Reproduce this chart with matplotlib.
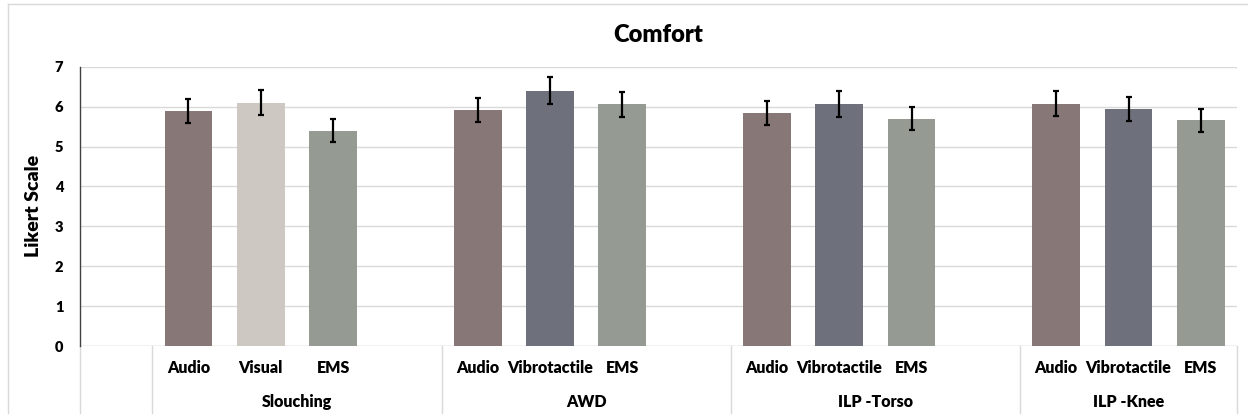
import matplotlib
matplotlib.use("Agg")
import matplotlib.pyplot as plt
from matplotlib.lines import Line2D

plt.rcParams['font.family'] = ['Lato', 'DejaVu Sans']

# Data: mean comfort ratings (Likert) and error-bar half-widths
groups = ["Slouching", "AWD", "ILP -Torso", "ILP -Knee"]
conditions = [
    ["Audio", "Visual", "EMS"],
    ["Audio", "Vibrotactile", "EMS"],
    ["Audio", "Vibrotactile", "EMS"],
    ["Audio", "Vibrotactile", "EMS"],
]
means = [
    [5.89, 6.10, 5.40],
    [5.91, 6.40, 6.06],
    [5.85, 6.07, 5.70],
    [6.07, 5.95, 5.66],
]
errors = [
    [0.30, 0.31, 0.28],
    [0.30, 0.33, 0.31],
    [0.30, 0.32, 0.29],
    [0.31, 0.30, 0.29],
]
yticks = [0, 1, 2, 3, 4, 5, 6, 7]

palette = {
    "Audio": "#887777",
    "Visual": "#cdc8c2",
    "Vibrotactile": "#6e717b",
    "EMS": "#959a93",
}

W, H = 1248, 417
WEIGHT = "heavy"
fig = plt.figure(figsize=(W / 100, H / 100), dpi=100)
ax = fig.add_axes([80 / W, (H - 346) / H, (1237 - 80) / W, (346 - 66.7) / H])

# One empty slot at the start, then each group takes 4 slots (3 bars + gap)
slots_per_group = 4
positions, heights, errs, colors, labels = [], [], [], [], []
for gi, conds in enumerate(conditions):
    for ci, c in enumerate(conds):
        positions.append(1 + gi * slots_per_group + ci)
        heights.append(means[gi][ci])
        errs.append(errors[gi][ci])
        colors.append(palette[c])
        labels.append(c)

ax.bar(positions, heights, width=0.66, color=colors, zorder=2)
ax.errorbar(positions, heights, yerr=errs, fmt="none", ecolor="black",
            elinewidth=1.6, capsize=2.3, capthick=1.6, zorder=3)

last = positions[-1]
ax.set_xlim(-0.5, last + 0.5)
ax.set_ylim(0, 7)
ax.set_yticks(yticks)
ax.set_yticklabels([str(t) for t in yticks], fontsize=10.5, fontweight=WEIGHT)
ax.tick_params(axis="y", length=0, pad=12)
ax.set_xticks([])

ax.grid(axis="y", color="#d9d9d9", linewidth=1.0, zorder=0)
for s in ["top", "right", "bottom"]:
    ax.spines[s].set_visible(False)
ax.spines["left"].set_color("#404040")
ax.spines["left"].set_linewidth(1.0)
ax.axhline(0, color="#d9d9d9", linewidth=1.0, zorder=1)

ax.set_ylabel("Likert Scale", fontsize=14, fontweight=WEIGHT, labelpad=9)
ax.set_title("Comfort", fontsize=17, fontweight=WEIGHT, pad=18)

# Two-level category axis
trans = ax.get_xaxis_transform()
for p, lab in zip(positions, labels):
    ax.text(p, -0.078, lab, transform=trans, ha="center", va="center",
            fontsize=11.5, fontweight=WEIGHT)

bounds = [-0.5] + [0.5 + gi * slots_per_group for gi in range(len(groups))] + [last + 0.5]
for b in bounds:
    ax.add_line(Line2D([b, b], [0, -0.24], transform=trans, color="#d9d9d9",
                       linewidth=1.0, clip_on=False))
for gi, g in enumerate(groups):
    lo, hi = bounds[gi + 1], bounds[gi + 2]
    ax.text((lo + hi) / 2, -0.199, g, transform=trans, ha="center", va="center",
            fontsize=11.5, fontweight=WEIGHT)

# Chart-area border
fig.add_artist(Line2D([8 / W, 1], [(H - 3.5) / H] * 2, color="#d9d9d9", linewidth=1.0))
fig.add_artist(Line2D([8 / W] * 2, [(H - 413) / H, (H - 3.5) / H], color="#d9d9d9", linewidth=1.0))

fig.savefig("out.png", dpi=100, facecolor="white")
